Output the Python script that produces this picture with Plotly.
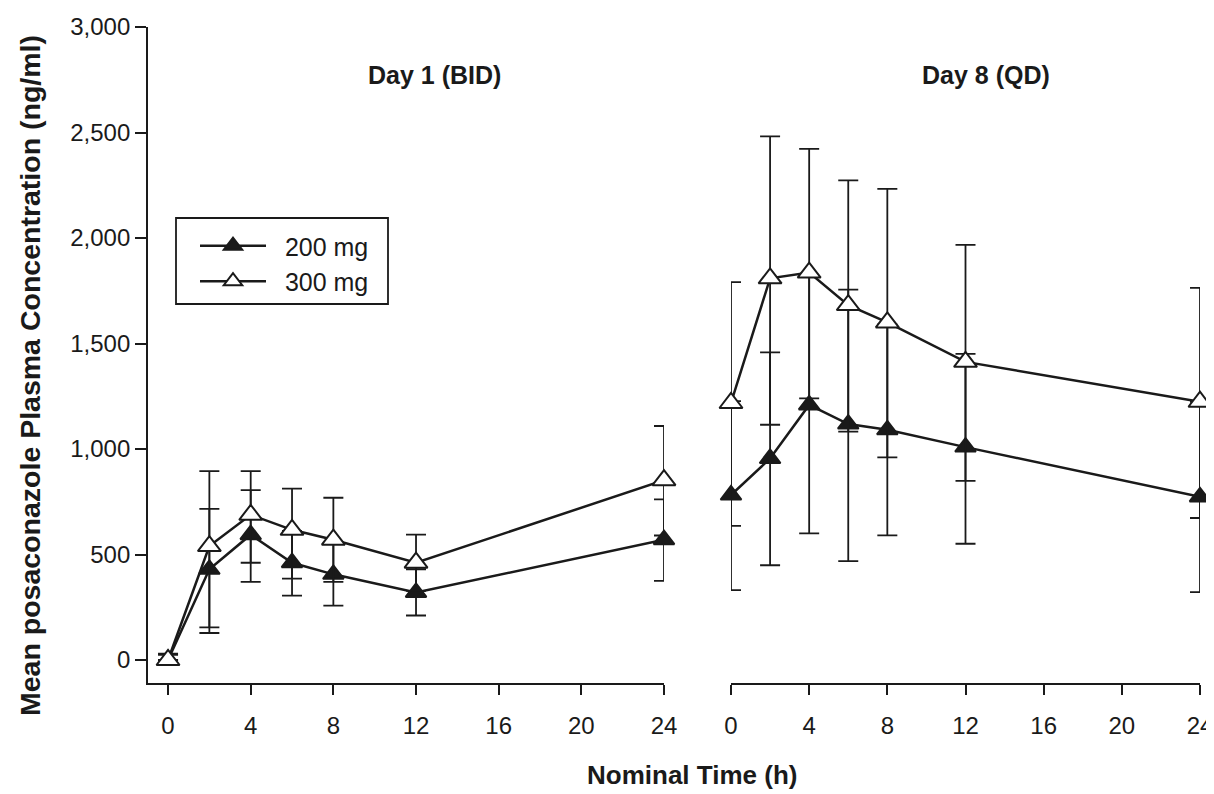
import plotly.graph_objects as go

# Nominal time points (h)
time_h = [0, 2, 4, 6, 8, 12, 24]
x_ticks = [0, 4, 8, 12, 16, 20, 24]
y_ticks = [0, 500, 1000, 1500, 2000, 2500, 3000]
y_tick_labels = ["0", "500", "1,000", "1,500", "2,000", "2,500", "3,000"]

# Day 1 (BID)
d1_200_mean = [0, 430, 594, 461, 406, 320, 570]
d1_200_upper = [25, 716, 805, 612, 555, 430, 761]
d1_200_lower = [0, 128, 370, 305, 258, 211, 375]
d1_300_mean = [0, 540, 688, 617, 570, 461, 852]
d1_300_upper = [30, 895, 895, 812, 769, 594, 1109]
d1_300_lower = [0, 155, 461, 386, 370, 328, 590]

# Day 8 (QD)
d8_200_mean = [782, 955, 1209, 1118, 1091, 1009, 773]
d8_200_upper = [1227, 1458, 1818, 1755, 1591, 1451, 1224]
d8_200_lower = [331, 449, 600, 469, 591, 551, 322]
d8_300_mean = [1218, 1809, 1836, 1682, 1600, 1413, 1224]
d8_300_upper = [1791, 2482, 2422, 2273, 2233, 1967, 1764]
d8_300_lower = [636, 1115, 1240, 1082, 960, 849, 673]

FONT = "Liberation Sans, Arial, sans-serif"
INK = "#1a1a1a"


def err(mean, upper, lower):
    return dict(
        type="data", symmetric=False,
        array=[u - m for u, m in zip(upper, mean)],
        arrayminus=[m - l for m, l in zip(mean, lower)],
        color=INK, thickness=1.8, width=10,
    )


def series(name, legend_name, xaxis, mean, upper, lower, filled, show):
    return go.Scatter(
        x=time_h, y=mean, name=legend_name, mode="lines+markers",
        xaxis=xaxis, yaxis="y",
        line=dict(color=INK, width=2.5),
        marker=dict(symbol="triangle-up", size=18 if filled else 20,
                    color=INK if filled else "white",
                    line=dict(color=INK, width=2)),
        error_y=err(mean, upper, lower),
        cliponaxis=False, showlegend=show, legendgroup=name,
    )


PAD = "\u00a0\u00a0"
fig = go.Figure()
fig.add_trace(series("200 mg", PAD + "200 mg", "x", d1_200_mean, d1_200_upper, d1_200_lower, True, True))
fig.add_trace(series("300 mg", PAD + "300 mg", "x", d1_300_mean, d1_300_upper, d1_300_lower, False, True))
fig.add_trace(series("200 mg", "200 mg", "x2", d8_200_mean, d8_200_upper, d8_200_lower, True, False))
fig.add_trace(series("300 mg", "300 mg", "x2", d8_300_mean, d8_300_upper, d8_300_lower, False, False))

# page body has an 8px margin; work in reference-pixel coordinates and shift
OFF = 8
W, H = 1214 - OFF, 794 - OFF
L, T = 148 - OFF, 27 - OFF
R = W - (1200 - OFF)
B = H - (683 - OFF)
pw = W - L - R
ph = H - T - B


def px_x(p):
    return (p - OFF - L) / pw


def px_y(p):
    return (H - B - (p - OFF)) / ph


common_x = dict(
    tickmode="array", tickvals=x_ticks, ticks="outside", ticklen=10, tickwidth=1.8,
    tickcolor=INK, showline=True, linecolor=INK, linewidth=1.8, showgrid=False,
    zeroline=False, tickfont=dict(family=FONT, size=24, color=INK), anchor="y",
    ticklabelstandoff=10,
)

fig.update_layout(
    width=W, height=H,
    margin=dict(l=L, r=R, t=T, b=B, autoexpand=False),
    paper_bgcolor="white", plot_bgcolor="white",
    font=dict(family=FONT, size=24, color=INK),
    xaxis=dict(domain=[0, px_x(664)], range=[-0.97, 24], **common_x),
    xaxis2=dict(domain=[px_x(731), 1], range=[0, 24], **common_x),
    yaxis=dict(
        range=[-109, 3000], tickmode="array", tickvals=y_ticks, ticktext=y_tick_labels,
        ticks="outside", ticklen=11, tickwidth=1.8, tickcolor=INK,
        showline=True, linecolor=INK, linewidth=1.8, showgrid=False, zeroline=False,
        tickfont=dict(family=FONT, size=24, color=INK), anchor="x",
    ),
    legend=dict(
        x=px_x(195), y=px_y(223), xanchor="left", yanchor="top",
        borderwidth=0, bgcolor="rgba(0,0,0,0)",
        font=dict(family=FONT, size=25, color=INK),
        itemwidth=66, tracegroupgap=0,
    ),
    shapes=[
        dict(type="rect", xref="paper", yref="paper",
             x0=px_x(176), x1=px_x(388), y0=px_y(304), y1=px_y(218),
             line=dict(color=INK, width=1.8), fillcolor="rgba(0,0,0,0)", layer="below"),
    ],
    annotations=[
        dict(text="<b>Day 1 (BID)</b>", x=px_x(434), y=px_y(75), xref="paper", yref="paper",
             xanchor="center", yanchor="middle",
             showarrow=False, font=dict(family=FONT, size=25, color=INK)),
        dict(text="<b>Day 8 (QD)</b>", x=px_x(986), y=px_y(75), xref="paper", yref="paper",
             xanchor="center", yanchor="middle",
             showarrow=False, font=dict(family=FONT, size=25, color=INK)),
        dict(text="<b>Nominal Time (h)</b>", x=px_x(692), y=px_y(775), xref="paper", yref="paper",
             xanchor="center", yanchor="middle",
             showarrow=False, font=dict(family=FONT, size=26, color=INK)),
        dict(text="<b>Mean posaconazole Plasma Concentration (ng/ml)</b>", x=px_x(30), y=px_y(376),
             xref="paper", yref="paper", xanchor="center", yanchor="middle",
             showarrow=False, textangle=-90,
             font=dict(family=FONT, size=28.5, color=INK)),
    ],
)

fig.write_html("out.html")
